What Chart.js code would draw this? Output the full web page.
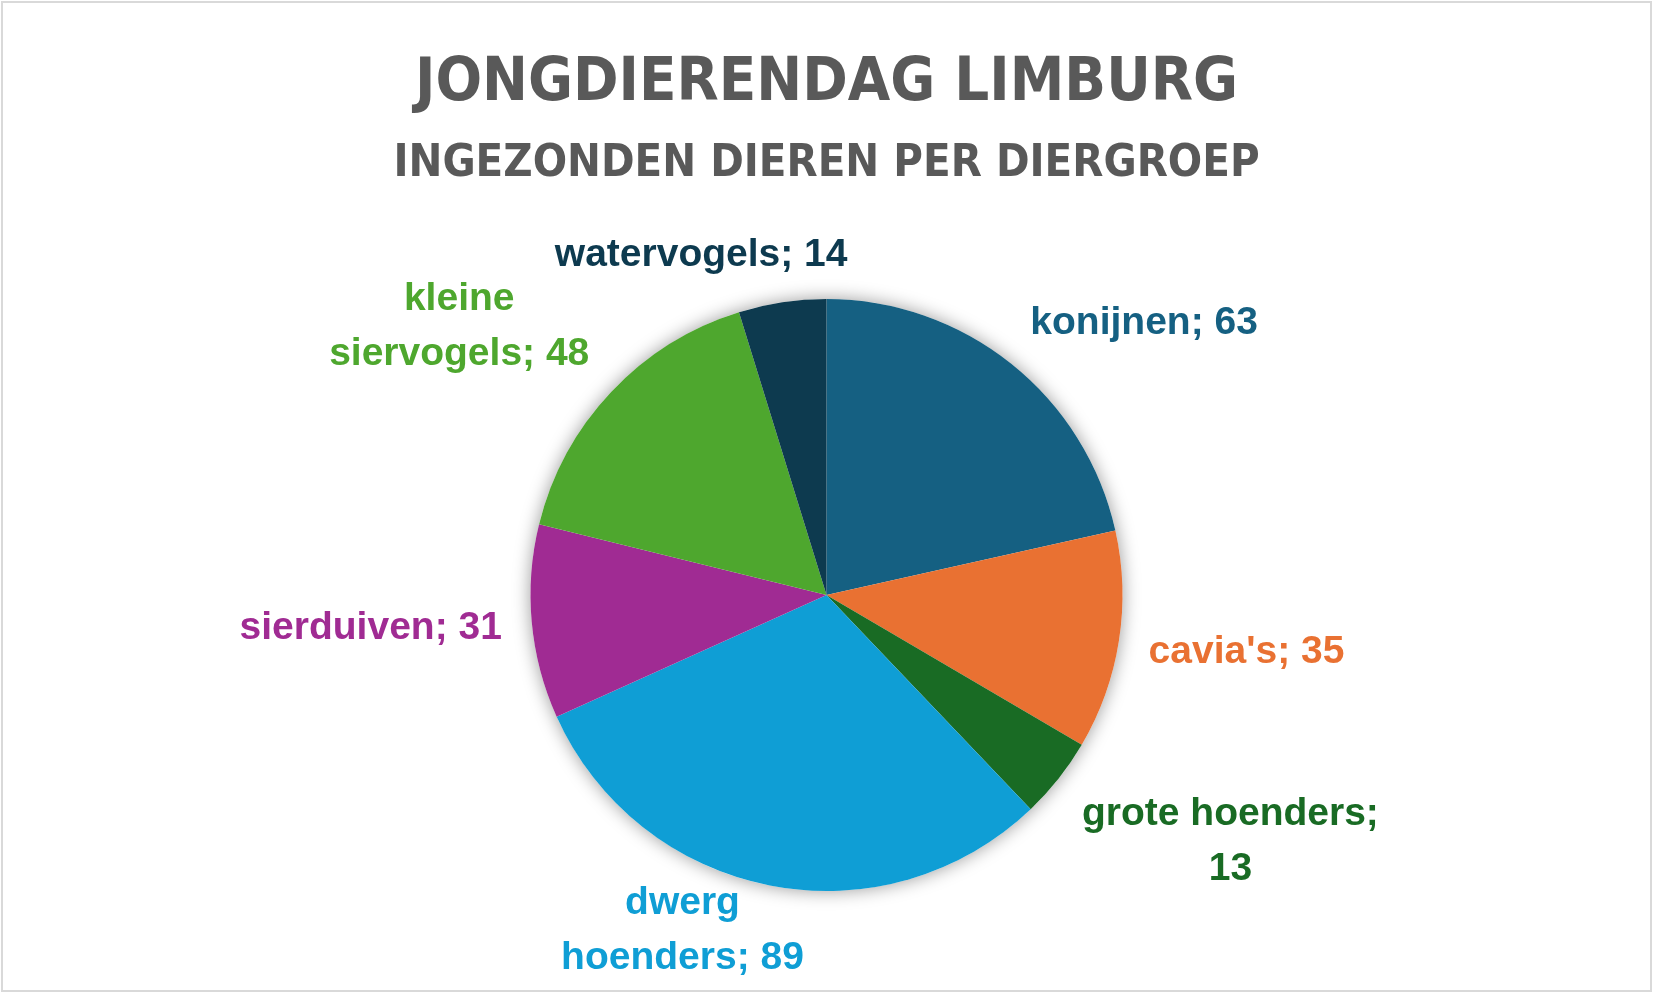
<!DOCTYPE html>
<html lang="nl">
<head>
    <meta charset="UTF-8">
    <title>Jongdierendag Limburg</title>
    <script src="https://cdn.jsdelivr.net/npm/chart.js@4.4.1/dist/chart.umd.min.js"></script>
    <style>
        body { margin: 0; background: #fff; }
        #grafiek { display: block; outline: 2px solid #d9d9d9; outline-offset: -3px; }
    </style>
</head>
<body>
    <canvas id="grafiek" width="1653" height="993"></canvas>

    <script>
        // diergroepen en aantallen, met de klok mee vanaf boven
        const diergroepen = ['konijnen', "cavia's", 'grote hoenders', 'dwerg hoenders', 'sierduiven', 'kleine siervogels', 'watervogels'];
        const aantallen = [63, 35, 13, 89, 31, 48, 14];
        const kleuren = ['#156082', '#E97132', '#196B24', '#0F9ED5', '#A02B93', '#4EA72E', '#0D3A4F'];

        const titel = 'JONGDIERENDAG LIMBURG';
        const ondertitel = 'INGEZONDEN DIEREN PER DIERGROEP';

        const labelFont = 'bold 39px "Liberation Sans", Arial, sans-serif';
        const regelHoogte = 55;
        const tekstHoogte = 34;
        const maxBreedte = 310;

        function afbreken(ctx, tekst) {
            const woorden = tekst.split(' ');
            const regels = [];
            let huidig = '';
            woorden.forEach(w => {
                const test = huidig ? huidig + ' ' + w : w;
                if (huidig && ctx.measureText(test).width > maxBreedte) {
                    regels.push(huidig);
                    huidig = w;
                } else {
                    huidig = test;
                }
            });
            regels.push(huidig);
            return regels;
        }

        const klem = v => Math.max(-1, Math.min(1, v));

        // schaduw onder de taart en labels buiten de taart
        const taartLabels = {
            id: 'taartLabels',
            beforeDatasetsDraw(chart) {
                const arc = chart.getDatasetMeta(0).data[0];
                if (!arc) return;
                const p = arc.getProps(['x', 'y', 'outerRadius'], true);
                const ctx = chart.ctx;
                ctx.save();
                ctx.shadowColor = 'rgba(0,0,0,0.4)';
                ctx.shadowBlur = 18;
                ctx.fillStyle = '#fff';
                ctx.beginPath();
                ctx.arc(p.x, p.y, p.outerRadius, 0, Math.PI * 2);
                ctx.fill();
                ctx.restore();
            },
            afterDatasetsDraw(chart) {
                const ctx = chart.ctx;
                const meta = chart.getDatasetMeta(0);
                ctx.save();
                ctx.font = labelFont;
                ctx.textAlign = 'center';
                ctx.textBaseline = 'middle';
                meta.data.forEach((arc, i) => {
                    const p = arc.getProps(['x', 'y', 'startAngle', 'endAngle', 'outerRadius'], true);
                    const mid = (p.startAngle + p.endAngle) / 2;
                    const dx = Math.cos(mid), dy = Math.sin(mid);
                    const regels = afbreken(ctx, diergroepen[i] + '; ' + aantallen[i]);
                    const w = Math.max(...regels.map(r => ctx.measureText(r).width));
                    const h = (regels.length - 1) * regelHoogte + tekstHoogte;
                    const ax = p.x + dx * (p.outerRadius + 30);
                    const ay = p.y + dy * (p.outerRadius + 30);
                    const cx = ax + klem(dx * 3.5) * w / 2;
                    let cy = ay + klem(dy * 2.5) * h / 2;
                    cy = Math.max(h / 2 + 10, Math.min(chart.height - h / 2 - 18, cy));
                    ctx.fillStyle = kleuren[i];
                    regels.forEach((r, k) => {
                        ctx.fillText(r, cx, cy - h / 2 + tekstHoogte / 2 + regelHoogte * k);
                    });
                });
                ctx.restore();
            }
        };

        new Chart(document.getElementById('grafiek'), {
            type: 'pie',
            data: {
                labels: diergroepen,
                datasets: [{
                    data: aantallen,
                    backgroundColor: kleuren,
                    borderWidth: 0
                }]
            },
            options: {
                responsive: false,
                animation: false,
                events: [],
                layout: { padding: { top: 0, bottom: 102, left: 0, right: 0 } },
                plugins: {
                    legend: { display: false },
                    tooltip: { enabled: false },
                    title: {
                        display: true,
                        text: titel,
                        color: '#595959',
                        font: { family: '"DejaVu Sans Condensed", "Liberation Sans", sans-serif', size: 61, weight: 'bold', lineHeight: 1.2 },
                        padding: { top: 47.6, bottom: 0 }
                    },
                    subtitle: {
                        display: true,
                        text: ondertitel,
                        color: '#595959',
                        font: { family: '"DejaVu Sans Condensed", "Liberation Sans", sans-serif', size: 45, weight: 'bold', lineHeight: 1.2 },
                        padding: { top: 16.2, bottom: 108 }
                    }
                }
            },
            plugins: [taartLabels]
        });
    </script>
</body>
</html>
